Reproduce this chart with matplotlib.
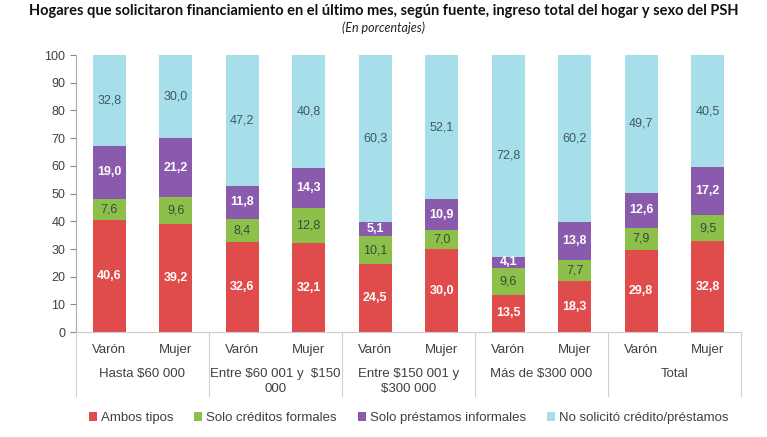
import numpy as np
import matplotlib
matplotlib.use("Agg")
import matplotlib.pyplot as plt
from matplotlib.transforms import blended_transform_factory

# datos
sexo = ["Varón", "Mujer"] * 5
grupos = ["Hasta \\$60 000", "Entre \\$60 001 y  \\$150\n000", "Entre \\$150 001 y\n\\$300 000",
          "Más de \\$300 000", "Total"]
ambos = [40.6, 39.2, 32.6, 32.1, 24.5, 30.0, 13.5, 18.3, 29.8, 32.8]
formales = [7.6, 9.6, 8.4, 12.8, 10.1, 7.0, 9.6, 7.7, 7.9, 9.5]
informales = [19.0, 21.2, 11.8, 14.3, 5.1, 10.9, 4.1, 13.8, 12.6, 17.2]
no_solicito = [32.8, 30.0, 47.2, 40.8, 60.3, 52.1, 72.8, 60.2, 49.7, 40.5]
series = ["Ambos tipos", "Solo créditos formales", "Solo préstamos informales",
          "No solicitó crédito/préstamos"]

colores = ["#E04B4C", "#8CC04B", "#8A5BAD", "#A6DEEA"]
txt_col = ["white", "#3A4A3A", "white", "#3F5A60"]
txt_w = ["bold", "normal", "bold", "normal"]

plt.rcParams["font.family"] = ["Liberation Sans", "DejaVu Sans"]

fig = plt.figure(figsize=(7.67, 4.37), dpi=100)
ax = fig.add_axes([0.099, 0.240, 0.867, 0.634])

x = np.arange(len(sexo))
base = np.zeros(len(sexo))
for vals, nombre, c, tc, tw in zip([ambos, formales, informales, no_solicito],
                                   series, colores, txt_col, txt_w):
    vals = np.array(vals)
    ax.bar(x, vals, 0.5, bottom=base, color=c, label=nombre)
    for xi, b, v in zip(x, base, vals):
        ax.text(xi, b + v / 2, f"{v:.1f}".replace(".", ","), ha="center", va="center",
                fontsize=9, color=tc, fontweight=tw)
    base += vals

ax.set_xlim(-0.5, len(sexo) - 0.5)
ax.set_ylim(0, 100)
ax.set_yticks(range(0, 101, 10))
ax.tick_params(axis="y", colors="#888888", labelcolor="#404040", labelsize=9, length=4)
ax.set_xticks([])
for s in ["top", "right"]:
    ax.spines[s].set_visible(False)
ax.spines["left"].set_color("#aaaaaa")
ax.spines["bottom"].set_color("#cccccc")

trans = blended_transform_factory(ax.transData, ax.transAxes)
for xi, s in zip(x, sexo):
    ax.text(xi, -0.065, s, transform=trans, ha="center", va="center",
            fontsize=9.5, color="#404040")
for i, g in enumerate(grupos):
    ax.text(2 * i + 0.5, -0.13, g, transform=trans, ha="center", va="top",
            fontsize=9.5, color="#404040", linespacing=1.3)
for k in range(6):
    ax.plot([2 * k - 0.5] * 2, [0, -0.23], transform=trans, color="#d0d0d0",
            lw=0.8, clip_on=False)

fig.text(0.5, 0.975, "Hogares que solicitaron financiamiento en el último mes, según fuente, "
         "ingreso total del hogar y sexo del PSH", ha="center", va="center",
         fontsize=10.5, fontweight="bold", family=["Lato", "DejaVu Sans"], color="#111111")
fig.text(0.5, 0.937, "(En porcentajes)", ha="center", va="center", fontsize=9,
         style="italic", family=["Lato", "DejaVu Sans"], color="#222222")

ax.legend(loc="center", bbox_to_anchor=(0.5, -0.31), ncol=4, frameon=False,
          fontsize=9.5, handlelength=0.6, handleheight=0.6, handletextpad=0.3,
          columnspacing=1.6, labelcolor="#404040")

fig.savefig("out.png", dpi=100)
